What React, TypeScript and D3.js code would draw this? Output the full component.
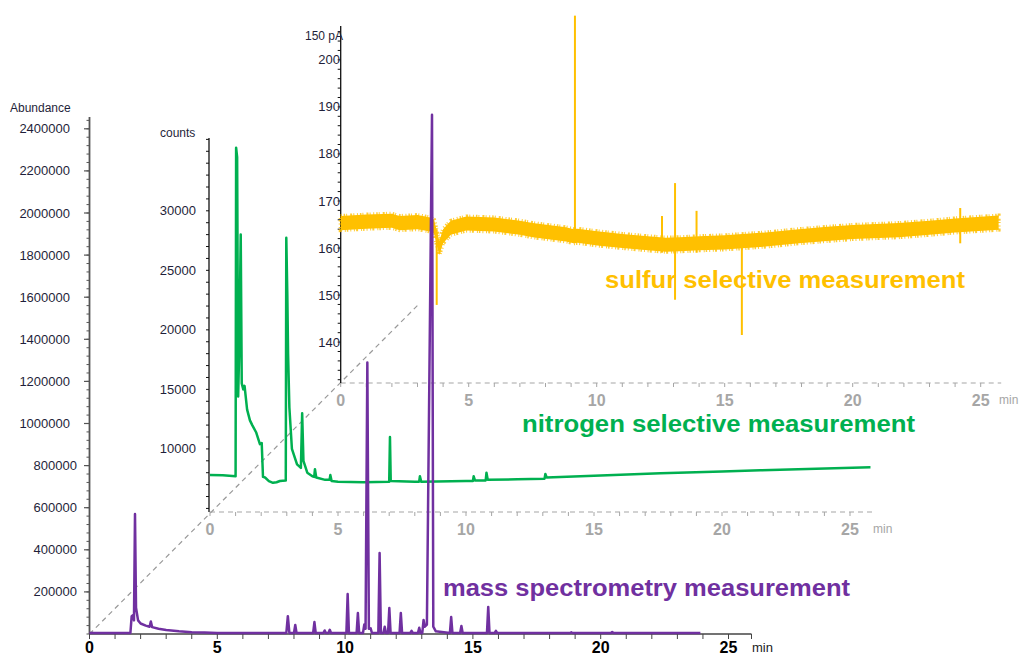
import React, { useEffect, useRef } from 'react';
import * as d3 from 'd3';

// mass spectrometry trace: retention time (min) / abundance
const msTime = [
  0, 1.6, 1.65, 1.7, 1.74, 1.78, 1.82, 1.9, 2.0, 2.2, 2.35, 2.4, 2.45, 2.7, 3.0, 3.5, 4.0, 4.5, 5.0,
  7.7, 7.76, 7.82, 8.0, 8.05, 8.1, 8.75, 8.8, 8.85, 9.15, 9.2, 9.25, 9.35, 9.4, 9.45,
  10.05, 10.1, 10.15, 10.45, 10.5, 10.55, 10.7, 10.75, 10.8, 10.87, 10.93, 11.0, 11.05,
  11.3, 11.35, 11.4, 11.5, 11.55, 11.6, 11.68, 11.73, 11.78, 12.13, 12.18, 12.23,
  12.55, 12.6, 12.65, 12.85, 12.9, 12.95, 13.02, 13.07, 13.12, 13.2, 13.4, 13.45, 13.55,
  14.1, 14.15, 14.2, 14.5, 14.55, 14.6, 15.55, 15.6, 15.65, 15.85, 15.9, 15.95,
  18.8, 18.85, 18.9, 20.4, 20.45, 20.5, 23.9,
];
const msAbundance = [
  0, 0, 80000, 85000, 60000, 565000, 120000, 60000, 45000, 35000, 30000, 55000, 28000, 20000, 14000, 8000, 4000, 2000, 0,
  0, 80000, 0, 0, 38000, 0, 0, 52000, 0, 0, 12000, 0, 0, 15000, 0,
  0, 185000, 0, 0, 95000, 0, 0, 40000, 20000, 1285000, 20000, 22000, 0,
  0, 380000, 0, 0, 30000, 0, 0, 119000, 0, 0, 95000, 0,
  0, 10000, 0, 0, 25000, 0, 0, 62000, 30000, 40000, 2462000, 30000, 8000,
  0, 76000, 0, 0, 33000, 0, 0, 124000, 0, 0, 10000, 0,
  0, 3000, 0, 0, 5000, 0, 0,
];

// nitrogen selective trace: time (min) / counts
const nTime = [
  0, 0.5, 1.0, 1.02, 1.06, 1.1, 1.15, 1.2, 1.24, 1.3, 1.35, 1.45, 1.56, 1.65, 1.8, 1.95, 2.02, 2.07,
  2.15, 2.3, 2.46, 2.6, 2.73, 2.96, 2.98, 3.02, 3.05, 3.1, 3.2, 3.4, 3.55, 3.6, 3.65, 3.8, 4.0,
  4.07, 4.1, 4.15, 4.5, 4.67, 4.7, 4.75, 5.0, 6.0, 7.0, 7.03, 7.06, 8.0, 8.17, 8.2, 8.25,
  10.0, 10.27, 10.3, 10.35, 10.77, 10.8, 10.85, 12.0, 13.07, 13.1, 13.15, 15.0, 17.6, 20.0, 21.5, 25.8,
];
const nCounts = [
  7815, 7780, 7700, 35300, 34500, 14400, 19200, 28000, 15500, 15000, 15300, 13300, 12400, 12000, 11400, 10400, 10500, 7650,
  7600, 7300, 7150, 7200, 7300, 7350, 27730, 23000, 18000, 13500, 10000, 8700, 8400, 13000, 9000, 8000, 7700,
  7650, 8300, 7600, 7400, 7400, 7800, 7300, 7250, 7200, 7250, 11000, 7300, 7250, 7250, 7700, 7250,
  7300, 7300, 7700, 7350, 7350, 8000, 7400, 7450, 7500, 7900, 7600, 7750, 7950, 8100, 8200, 8450,
];

// sulfur selective trace: noise band (pA) and single spikes
const sTime = [0, 1, 2, 2.3, 3, 3.5, 3.65, 3.85, 4.0, 4.3, 4.9, 6, 7, 7.5, 8.8, 9.1, 9.25, 10.1, 11, 12, 12.7, 13.25, 14, 15, 16.6, 17.9, 19, 20, 21.8, 23, 24, 25.7];
const sHigh = [166.8, 167.1, 167.3, 166.8, 167.0, 166.5, 166.0, 161.5, 164.0, 165.8, 166.7, 166.5, 165.8, 165.3, 164.4, 164.0, 164.1, 163.5, 163.0, 162.5, 162.2, 162.3, 162.5, 162.7, 163.3, 164.0, 164.5, 164.9, 165.3, 165.8, 166.3, 166.9];
const sLow = [163.8, 164.1, 164.3, 163.8, 164.0, 163.5, 163.0, 158.5, 161.0, 162.8, 163.7, 163.5, 162.8, 162.3, 161.4, 161.0, 161.1, 160.5, 160.0, 159.5, 159.2, 159.3, 159.5, 159.7, 160.3, 161.0, 161.5, 161.9, 162.3, 162.8, 163.3, 163.9];
const sSpikeTime = [3.75, 9.15, 12.55, 13.06, 13.9, 15.67, 24.2];
const sSpikeTop = [164, 209.4, 166.8, 173.8, 167.9, 161, 168.5];
const sSpikeBottom = [147.9, 162, 159, 149, 159, 141.5, 161];

// tick labels
const msTickLabels = [200000, 400000, 600000, 800000, 1000000, 1200000, 1400000, 1600000, 1800000, 2000000, 2200000, 2400000];
const nTickLabels = [10000, 15000, 20000, 25000, 30000];
const sTickLabels = [140, 150, 160, 170, 180, 190, 200];
const timeLabels = [0, 5, 10, 15, 20, 25];

const PURPLE = '#7030A0';
const GREEN = '#00B050';
const YELLOW = '#FFC000';
const FONT = '"Liberation Sans", Arial, sans-serif';

export default function App() {
  const svgRef = useRef<SVGSVGElement>(null);

  useEffect(() => {
    if (!svgRef.current) return;
    const svg = d3.select(svgRef.current);
    svg.selectAll('*').remove();

    // scales, one set per stacked chart
    const xMS = d3.scaleLinear().domain([0, 26]).range([89.5, 89.5 + 26 * 25.56]);
    const yMS = d3.scaleLinear().domain([0, 2450000]).range([634, 634 - 12.25 * 42.1]);
    const xN = d3.scaleLinear().domain([0, 26]).range([210, 210 + 26 * 25.6]);
    const yN = d3.scaleLinear().domain([4700, 36200]).range([512, 137]);
    const xS = d3.scaleLinear().domain([0, 26]).range([340.7, 340.7 + 26 * 25.6]);
    const yS = d3.scaleLinear().domain([131.3, 207.2]).range([383, 26]);

    // diagonal guide through the three origins
    svg.append('line')
      .attr('x1', xMS(0)).attr('y1', yMS(0))
      .attr('x2', 418).attr('y2', 305)
      .attr('stroke', '#999').attr('stroke-width', 1.2).attr('stroke-dasharray', '5,4');

    const dashedTimeAxis = (x: d3.ScaleLinear<number, number>, y0: number, tEnd: number, minX: number) => {
      const g = svg.append('g');
      g.append('line')
        .attr('x1', x(0)).attr('x2', x(tEnd)).attr('y1', y0).attr('y2', y0)
        .attr('stroke', '#a6a6a6').attr('stroke-width', 1.2).attr('stroke-dasharray', '5,4');
      g.selectAll('line.tick')
        .data(d3.range(0, Math.floor(tEnd) + 1))
        .enter().append('line')
        .attr('x1', d => x(d)).attr('x2', d => x(d))
        .attr('y1', y0).attr('y2', y0 + 4)
        .attr('stroke', '#a6a6a6');
      g.selectAll('text.lbl')
        .data(timeLabels)
        .enter().append('text')
        .text(d => d)
        .attr('x', d => x(d)).attr('y', y0 + 23)
        .attr('text-anchor', 'middle')
        .attr('font-family', FONT).attr('font-weight', 'bold').attr('font-size', 16)
        .attr('fill', '#a6a6a6');
      g.append('text').text('min')
        .attr('x', minX).attr('y', y0 + 21)
        .attr('font-family', FONT).attr('font-size', 12).attr('fill', '#a6a6a6');
    };

    const valueAxis = (
      x0: number, y: d3.ScaleLinear<number, number>, yTop: number, yBottom: number,
      minorStep: number, color: string, width: number
    ) => {
      const g = svg.append('g');
      g.append('line')
        .attr('x1', x0).attr('x2', x0).attr('y1', yTop).attr('y2', yBottom)
        .attr('stroke', color).attr('stroke-width', width);
      const [lo, hi] = y.domain();
      g.selectAll('line.minor')
        .data(d3.range(Math.ceil(lo / minorStep) * minorStep, hi, minorStep))
        .enter().append('line')
        .attr('x1', x0 - 3).attr('x2', x0)
        .attr('y1', d => y(d)).attr('y2', d => y(d))
        .attr('stroke', color).attr('stroke-width', 1);
      return g;
    };

    // ---------- sulfur chart ----------
    dashedTimeAxis(xS, 383, 25.8, 999);
    const sAx = valueAxis(340.7, yS, 26, 383, 2, '#111', 1.3);
    sAx.selectAll('text')
      .data(sTickLabels)
      .enter().append('text')
      .text(d => d)
      .attr('x', 340).attr('y', d => yS(d)).attr('dy', '0.35em')
      .attr('text-anchor', 'end')
      .attr('font-family', FONT).attr('font-size', 13).attr('fill', '#1f1f3a');
    svg.append('text').text('150 pA')
      .attr('x', 305).attr('y', 40)
      .attr('font-family', FONT).attr('font-size', 12).attr('fill', '#1f1f3a');

    // ---------- nitrogen chart ----------
    dashedTimeAxis(xN, 512, 25.9, 873);
    const nAx = valueAxis(209, yN, 138, 512, 1000, '#111', 1.3);
    nAx.selectAll('text')
      .data(nTickLabels)
      .enter().append('text')
      .text(d => d)
      .attr('x', 196).attr('y', d => yN(d)).attr('dy', '0.35em')
      .attr('text-anchor', 'end')
      .attr('font-family', FONT).attr('font-size', 13).attr('fill', '#1f1f3a');
    svg.append('text').text('counts')
      .attr('x', 160).attr('y', 137)
      .attr('font-family', FONT).attr('font-size', 12).attr('fill', '#1f1f3a');

    // ---------- mass spectrometry chart ----------
    const msAx = valueAxis(89.5, yMS, 117, 634, 40000, '#555', 1.8);
    msAx.selectAll('line.major')
      .data(msTickLabels)
      .enter().append('line')
      .attr('x1', 84).attr('x2', 89.5)
      .attr('y1', d => yMS(d)).attr('y2', d => yMS(d))
      .attr('stroke', '#555').attr('stroke-width', 1.2);
    msAx.selectAll('text')
      .data(msTickLabels)
      .enter().append('text')
      .text(d => d)
      .attr('x', d => (d >= 1000000 ? 70 : 77)).attr('y', d => yMS(d)).attr('dy', '0.35em')
      .attr('text-anchor', 'end')
      .attr('font-family', FONT).attr('font-size', 13).attr('fill', '#1f1f3a');
    svg.append('text').text('Abundance')
      .attr('x', 10).attr('y', 112)
      .attr('font-family', FONT).attr('font-size', 12).attr('fill', '#1f1f3a');

    const xAx = svg.append('g');
    xAx.append('line')
      .attr('x1', xMS(0)).attr('x2', xMS(25.9)).attr('y1', 634).attr('y2', 634)
      .attr('stroke', '#444').attr('stroke-width', 1.5);
    xAx.selectAll('line.tick')
      .data(d3.range(0, 26))
      .enter().append('line')
      .attr('x1', d => xMS(d)).attr('x2', d => xMS(d))
      .attr('y1', 634).attr('y2', 639)
      .attr('stroke', '#444');
    xAx.append('line')
      .attr('x1', xMS(25.9)).attr('x2', xMS(25.9)).attr('y1', 634).attr('y2', 639)
      .attr('stroke', '#444');
    xAx.selectAll('text')
      .data(timeLabels)
      .enter().append('text')
      .text(d => d)
      .attr('x', d => xMS(d)).attr('y', 653)
      .attr('text-anchor', 'middle')
      .attr('font-family', FONT).attr('font-weight', 'bold').attr('font-size', 16)
      .attr('fill', '#000');
    svg.append('text').text('min')
      .attr('x', 752).attr('y', 652)
      .attr('font-family', FONT).attr('font-size', 13).attr('fill', '#222');

    // ---------- series labels ----------
    const label = (txt: string, x: number, y: number, len: number, color: string) =>
      svg.append('text').text(txt)
        .attr('x', x).attr('y', y)
        .attr('textLength', len).attr('lengthAdjust', 'spacingAndGlyphs')
        .attr('font-family', FONT).attr('font-weight', 'bold').attr('font-size', 23)
        .attr('fill', color);
    label('sulfur selective measurement', 605, 288, 360, YELLOW);
    label('nitrogen selective measurement', 522, 432, 393, GREEN);
    label('mass spectrometry  measurement', 443, 596, 407, PURPLE);

    // ---------- traces ----------
    const sBand = d3.area<number>()
      .x(i => xS(sTime[i]))
      .y0(i => yS(sLow[i]))
      .y1(i => yS(sHigh[i]));
    // noise band: solid core plus an uneven dotted rim
    svg.append('path')
      .attr('d', sBand(d3.range(sTime.length)))
      .attr('fill', YELLOW)
      .attr('stroke', YELLOW).attr('stroke-width', 4)
      .attr('stroke-dasharray', '1,2,1.5,1,1,3,2,1.2,1,2.6')
      .attr('stroke-opacity', 0.8);
    svg.selectAll('line.sspike')
      .data(d3.range(sSpikeTime.length))
      .enter().append('line')
      .attr('x1', i => xS(sSpikeTime[i])).attr('x2', i => xS(sSpikeTime[i]))
      .attr('y1', i => yS(sSpikeTop[i])).attr('y2', i => yS(sSpikeBottom[i]))
      .attr('stroke', YELLOW).attr('stroke-width', 2);

    const nLine = d3.line<number>()
      .x(i => xN(nTime[i]))
      .y(i => yN(nCounts[i]));
    svg.append('path')
      .attr('d', nLine(d3.range(nTime.length)))
      .attr('fill', 'none').attr('stroke', GREEN).attr('stroke-width', 2.5)
      .attr('stroke-linejoin', 'round');

    const msLine = d3.line<number>()
      .x(i => xMS(msTime[i]))
      .y(i => yMS(msAbundance[i]) - 1);
    svg.append('path')
      .attr('d', msLine(d3.range(msTime.length)))
      .attr('fill', 'none').attr('stroke', PURPLE).attr('stroke-width', 2.5)
      .attr('stroke-linejoin', 'round');
  }, []);

  return (
    <svg
      ref={svgRef}
      width={1021}
      height={657}
      style={{ position: 'absolute', left: 0, top: 0, background: '#fff' }}
    />
  );
}
